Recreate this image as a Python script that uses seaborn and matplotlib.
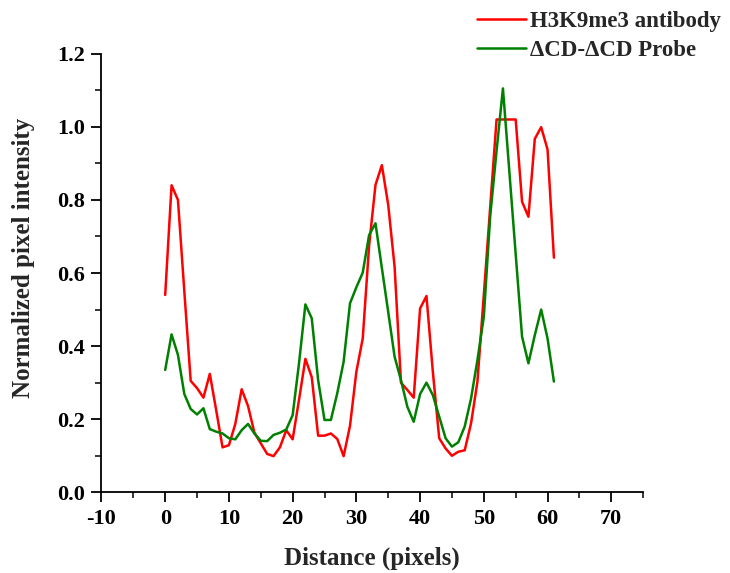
import matplotlib
matplotlib.use("Agg")
import matplotlib.pyplot as plt
from matplotlib.ticker import MultipleLocator
from matplotlib.lines import Line2D
import seaborn as sns
import pandas as pd

distance = list(range(0, 62))
h3k9me3 = [0.54, 0.84, 0.80, 0.55, 0.305, 0.285, 0.259, 0.324, 0.225, 0.123,
           0.129, 0.187, 0.282, 0.236, 0.163, 0.134, 0.105, 0.099, 0.123, 0.170,
           0.145, 0.253, 0.365, 0.315, 0.155, 0.155, 0.161, 0.146, 0.099, 0.182,
           0.330, 0.421, 0.675, 0.841, 0.895, 0.786, 0.617, 0.300, 0.280, 0.259,
           0.503, 0.537, 0.33, 0.148, 0.120, 0.100, 0.111, 0.115, 0.189, 0.303,
           0.54, 0.78, 1.02, 1.02, 1.02, 1.02, 0.795, 0.754, 0.967, 0.999,
           0.938, 0.642]
probe = [0.335, 0.432, 0.376, 0.269, 0.228, 0.213, 0.230, 0.173, 0.166, 0.161,
         0.148, 0.145, 0.170, 0.187, 0.161, 0.141, 0.140, 0.157, 0.163, 0.172,
         0.211, 0.353, 0.514, 0.476, 0.307, 0.198, 0.198, 0.271, 0.357, 0.517,
         0.561, 0.601, 0.704, 0.736, 0.614, 0.493, 0.371, 0.307, 0.234, 0.193,
         0.269, 0.300, 0.266, 0.207, 0.148, 0.125, 0.137, 0.180, 0.257, 0.362,
         0.48, 0.755, 0.934, 1.105, 0.879, 0.652, 0.426, 0.353, 0.43, 0.500,
         0.421, 0.303]
series_names = ["H3K9me3 antibody", "\u0394CD-\u0394CD Probe"]
colors = ["#FF0000", "#008000"]

df = pd.DataFrame({
    "Distance": distance * 2,
    "Intensity": h3k9me3 + probe,
    "Series": [series_names[0]] * len(distance) + [series_names[1]] * len(distance),
})

sns.set_style("ticks")
plt.rcParams["font.family"] = ["Liberation Serif", "DejaVu Serif"]
plt.rcParams["font.weight"] = "bold"
plt.rcParams["axes.unicode_minus"] = False

fig = plt.figure(figsize=(7.30, 5.73), dpi=100)
ax = fig.add_axes([0.139, 0.1408, 0.742, 0.7655])

sns.lineplot(data=df, x="Distance", y="Intensity", hue="Series",
             palette=colors, hue_order=series_names, linewidth=1.8, ax=ax,
             legend=False)

ax.set_xlim(-10, 75)
ax.set_ylim(0, 1.2)
ax.xaxis.set_major_locator(MultipleLocator(10))
ax.xaxis.set_minor_locator(MultipleLocator(5))
ax.yaxis.set_major_locator(MultipleLocator(0.2))
ax.yaxis.set_minor_locator(MultipleLocator(0.1))
ax.yaxis.set_major_formatter(matplotlib.ticker.FormatStrFormatter("%.1f"))
ax.tick_params(which="major", direction="out", length=7, width=1.3, labelsize=16,
               colors="black", pad=5)
ax.tick_params(which="minor", direction="out", length=4, width=1.3)
for lab in ax.get_xticklabels() + ax.get_yticklabels():
    lab.set_fontweight("bold")
for s in ["left", "bottom"]:
    ax.spines[s].set_linewidth(1.3)
    ax.spines[s].set_color("black")
sns.despine(ax=ax)

ax.set_xlabel("Distance (pixels)", fontsize=18, fontweight="bold", labelpad=13)
ax.set_ylabel("Normalized pixel intensity", fontsize=18, fontweight="bold")
ax.yaxis.set_label_coords(-0.122, 0.535)

handles = [Line2D([], [], color=c, linewidth=1.8) for c in colors]
fig.legend(handles, series_names, loc="upper left",
           bbox_to_anchor=(0.634, 1.005), frameon=False,
           prop={"family": ["Liberation Serif", "DejaVu Serif"], "weight": "bold", "size": 16.5},
           handlelength=2.15, handletextpad=0.2, labelspacing=0.35, borderaxespad=0.2)

fig.savefig("out.png", dpi=100)
